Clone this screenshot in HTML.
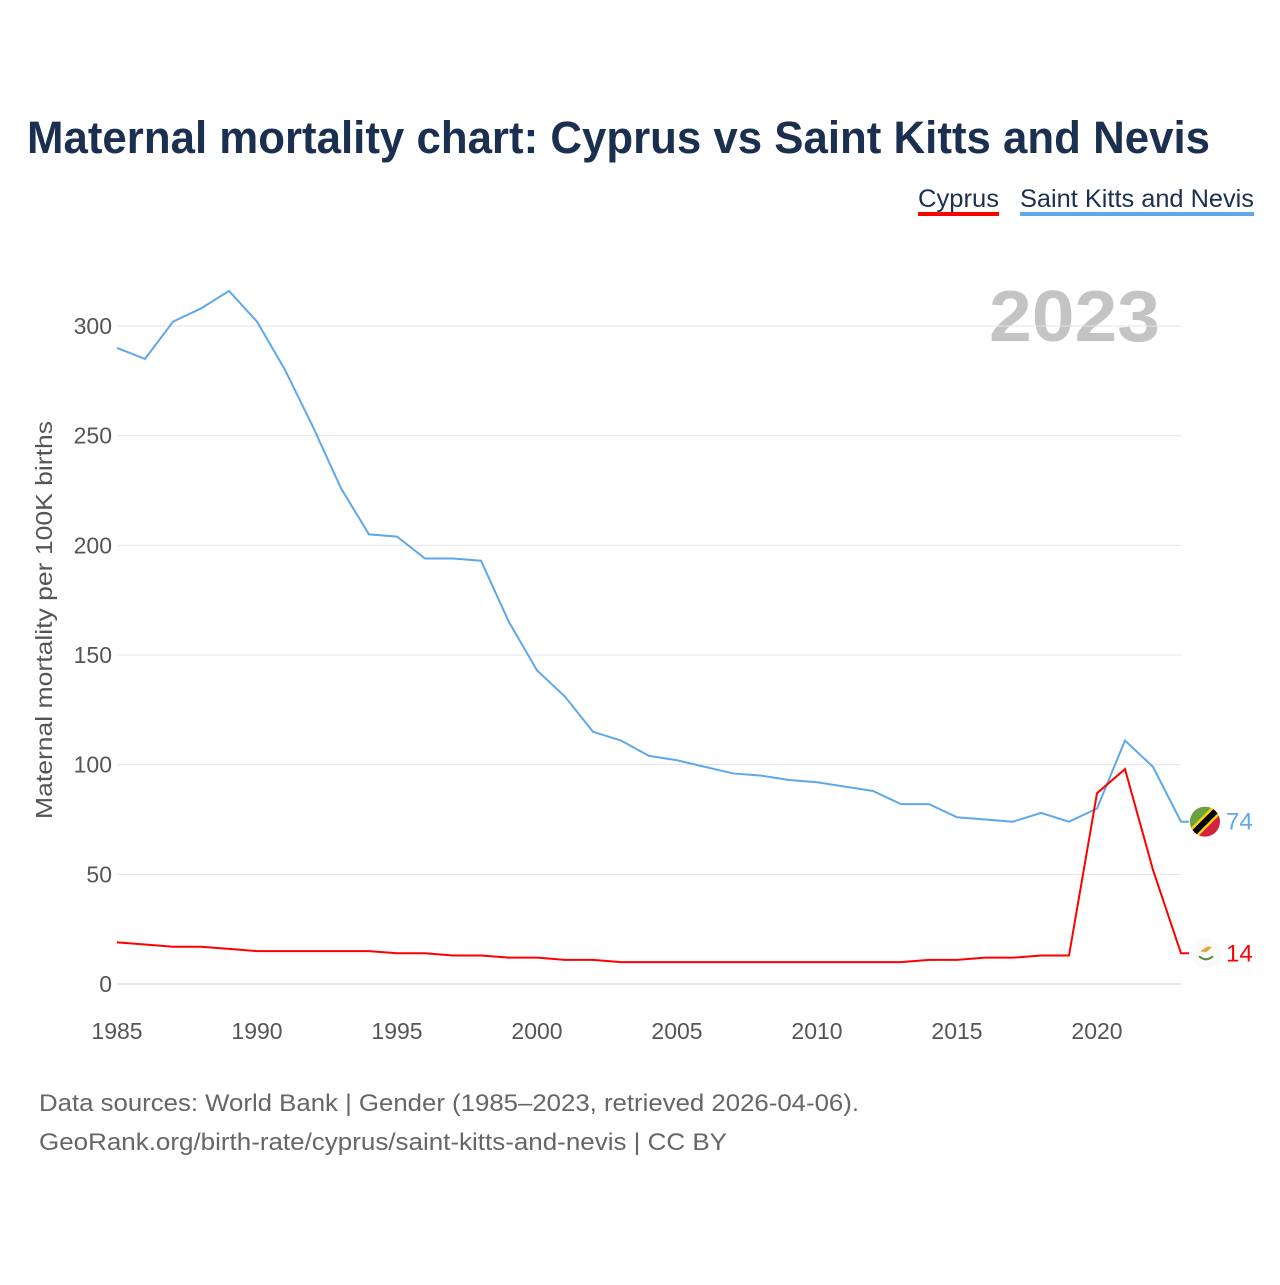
<!DOCTYPE html>
<html><head><meta charset="utf-8"><style>
body{margin:0;background:#fff;font-family:"Liberation Sans",sans-serif}
</style></head><body>
<svg id="c" width="1280" height="1280" xmlns="http://www.w3.org/2000/svg" font-family="Liberation Sans, sans-serif">
<text x="27" y="153" font-size="45" font-weight="bold" fill="#1b3050" textLength="1183" lengthAdjust="spacingAndGlyphs">Maternal mortality chart: Cyprus vs Saint Kitts and Nevis</text>
<g><text x="918" y="207" font-size="25" fill="#1b3050" textLength="81" lengthAdjust="spacingAndGlyphs">Cyprus</text><rect x="918" y="212" width="81" height="4" fill="#f00"/></g>
<g><text x="1020" y="207" font-size="25" fill="#1b3050" textLength="234" lengthAdjust="spacingAndGlyphs">Saint Kitts and Nevis</text><rect x="1020" y="212" width="234" height="4" fill="#5ea8ea"/></g>
<text x="989" y="341" font-size="72" font-weight="bold" fill="#c4c4c4" textLength="171" lengthAdjust="spacingAndGlyphs">2023</text>
<text transform="translate(52,620) rotate(-90)" font-size="23" fill="#555" text-anchor="middle" textLength="398" lengthAdjust="spacingAndGlyphs">Maternal mortality per 100K births</text>
<g id="grid"></g><g id="lines"></g>
<g font-size="24" fill="#666">
<text x="39" y="1111" textLength="820" lengthAdjust="spacingAndGlyphs">Data sources: World Bank | Gender (1985–2023, retrieved 2026-04-06).</text>
<text x="39" y="1150" textLength="688" lengthAdjust="spacingAndGlyphs">GeoRank.org/birth-rate/cyprus/saint-kitts-and-nevis | CC BY</text></g>
</svg>
<script>
const years=[];for(let y=1985;y<=2023;y++)years.push(y);
const kitts=[290,285,302,308,316,302,280,254,226,205,204,194,194,193,165,143,131,115,111,104,102,99,96,95,93,92,90,88,82,82,76,75,74,78,74,80,111,99,74];
const cyprus=[19,18,17,17,16,15,15,15,15,15,14,14,13,13,12,12,11,11,10,10,10,10,10,10,10,10,10,10,10,11,11,12,12,13,13,87,98,52,14];
const yTicks=[0,50,100,150,200,250,300];
const xTicks=[1985,1990,1995,2000,2005,2010,2015,2020];
const NS="http://www.w3.org/2000/svg";
const X=y=>117+(y-1985)*28, Y=v=>984-v*2.1933;
const grid=document.getElementById('grid'),lines=document.getElementById('lines');
function mk(tag,at,p){const e=document.createElementNS(NS,tag);for(const k in at)e.setAttribute(k,at[k]);p.appendChild(e);return e;}
yTicks.forEach(t=>{
 const l=mk('line',{x1:117,x2:1181,y1:Y(t),y2:Y(t),stroke:t?'#e6e6e6':'#ccc','stroke-width':1},grid);
 
 
 const tx=mk('text',{x:112,y:Y(t)+8,'font-size':23,fill:'#555','text-anchor':'end'},grid);tx.textContent=t;
 
 
});
xTicks.forEach(t=>{
 const tx=mk('text',{x:X(t),y:1039,'font-size':23,fill:'#555','text-anchor':'middle'},grid);tx.textContent=t;
 
 
});
function line(vals,col,name){
 const d=vals.map((v,i)=>(i?'L':'M')+X(years[i])+','+Y(v)).join('')+'L'+(X(2023)+8)+','+Y(vals[vals.length-1]);
 const p=mk('path',{d:d,fill:'none',stroke:col,'stroke-width':2},lines);
 
 
}
line(kitts,'#5ea8ea','line-saint-kitts');
line(cyprus,'#f00','line-cyprus');
const kv=kitts[kitts.length-1],cv=cyprus[cyprus.length-1];
const f1=mk('g',{},lines);


f1.innerHTML=`<defs><clipPath id="cp1"><circle cx="1205" cy="${Y(kv)}" r="15"/></clipPath></defs><g clip-path="url(#cp1)"><rect x="1190" y="${Y(kv)-15}" width="30" height="30" fill="#d4213d"/><polygon points="1190,${Y(kv)-15} 1220,${Y(kv)-15} 1190,${Y(kv)+15}" fill="#6aa23f"/><line x1="1188" y1="${Y(kv)+17}" x2="1222" y2="${Y(kv)-17}" stroke="#fcd116" stroke-width="11"/><line x1="1188" y1="${Y(kv)+17}" x2="1222" y2="${Y(kv)-17}" stroke="#000" stroke-width="6"/></g>`;
const t1=mk('text',{x:1226,y:Y(kv)+8,'font-size':24,fill:'#5ea8ea'},lines);t1.textContent=kv;


const f2=mk('g',{},lines);


f2.innerHTML=`<circle cx="1206" cy="${Y(cv)}" r="15" fill="#fafafa"/><path d="M1200 ${Y(cv)-2} l8 -5 l4 1 l-6 5z" fill="#e6a53a"/><path d="M1199 ${Y(cv)+3} q7 6 14 0" stroke="#5b8d3a" stroke-width="2" fill="none"/>`;
const t2=mk('text',{x:1226,y:Y(cv)+8,'font-size':24,fill:'#f00'},lines);t2.textContent=cv;


</script>
</body></html>
